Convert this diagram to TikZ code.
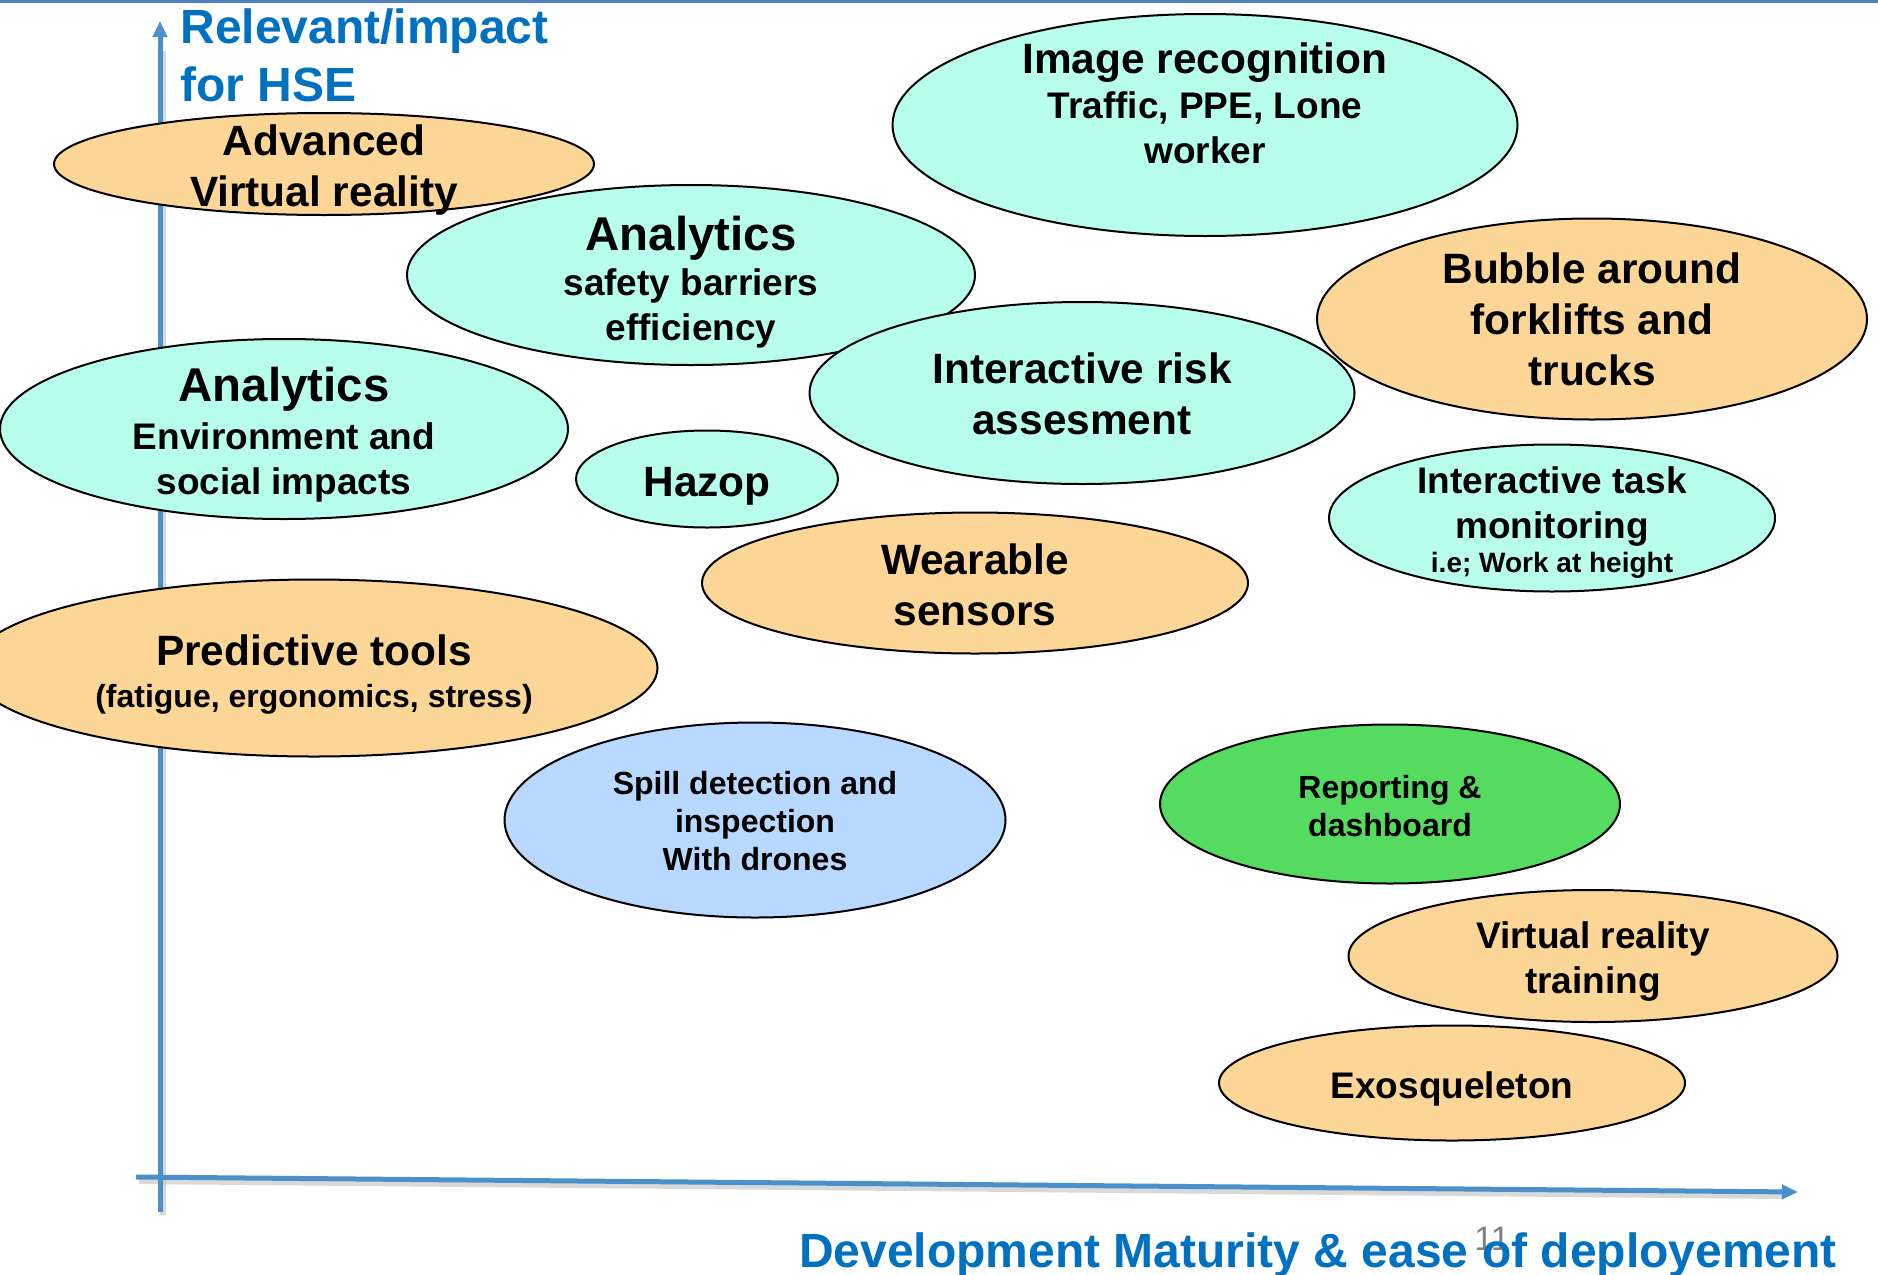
\documentclass[tikz,border=0pt]{standalone}
\usepackage{fontspec}
\setmainfont{Liberation Sans}
\usetikzlibrary{shapes.geometric,arrows.meta}

\definecolor{peach}{RGB}{252,214,150}
\definecolor{mint}{RGB}{183,255,236}
\definecolor{skyblue}{RGB}{184,216,255}
\definecolor{leafgreen}{RGB}{84,219,96}
\definecolor{axisblue}{RGB}{74,145,204}
\definecolor{titleblue}{RGB}{0,112,192}
\definecolor{rimblue}{RGB}{79,129,189}

\newcommand{\fhead}{\fontsize{23.7}{28}\selectfont}
\newcommand{\fbig}{\fontsize{21.2}{25.5}\selectfont}
\newcommand{\fmed}{\fontsize{18.5}{22.5}\selectfont}
\newcommand{\fsmall}{\fontsize{16}{19}\selectfont}
\newcommand{\ftiny}{\fontsize{14}{17}\selectfont}

\tikzset{
  blob/.style={ellipse, draw=black, line width=1pt, inner sep=0pt},
  peachblob/.style={blob, fill=peach},
  mintblob/.style={blob, fill=mint},
  txt/.style={align=center, inner sep=0pt, font=\bfseries},
  axis/.style={axisblue, line width=2.5pt, -{Triangle[length=8pt,width=7pt]}},
  axisshadow/.style={black!25, line width=3pt, opacity=0.6},
}

\begin{document}
\begin{tikzpicture}[x=0.5pt, y=-0.5pt]
\useasboundingbox (0,0) rectangle (1878,1274);
\draw[rimblue, line width=1.5pt] (0,1.5) -- (1878,1.5);

% axes
\coordinate (ybot) at (160,1212);
\coordinate (ytop) at (160,21);
\coordinate (xleft) at (136,1177);
\coordinate (xright) at (1798,1192);
\draw[axisshadow] ([shift={(3,3)}]ybot) -- ([shift={(3,30)}]ytop);
\draw[axisshadow] ([shift={(3,4)}]xleft) -- ([shift={(-14,4)}]xright);
\draw[axis] (ybot) -- (ytop);
\draw[axis] (xleft) -- (xright);

\node[txt, anchor=north west, align=left, titleblue, font=\bfseries\fontsize{24}{29}\selectfont] (ylabel) at (180,8) {Relevant/impact\\for HSE};
\node[anchor=base, gray, font=\fontsize{17}{19}\selectfont] (pagenum) at (1492,1250) {11};
\node[txt, anchor=base, titleblue, font=\bfseries\fontsize{24}{29}\selectfont] (xlabel) at (1318,1267) {Development Maturity \& ease of deployement};

% bubbles
\node[mintblob, minimum width=312.5pt, minimum height=111pt] (img) at (1205,125) {};
\node[txt, font=\bfseries\fmed] (imgtxt) at (1205,103) {{\fbig Image recognition}\\Traffic, PPE, Lone\\worker};

\node[mintblob, minimum width=284pt, minimum height=90pt] (anasafe) at (691,275) {};
\node[txt, font=\bfseries\fmed] (anasafetxt) at (691,282) {{\fhead Analytics}\\safety barriers\\efficiency};

\node[peachblob, minimum width=270pt, minimum height=51pt] (advvr) at (324,164) {};
\node[txt, font=\bfseries\fbig] (advvrtxt) at (324,170) {Advanced\\Virtual reality};

\node[peachblob, minimum width=275pt, minimum height=100.5pt] (bubble) at (1592,319) {};
\node[txt, font=\bfseries\fbig] (bubbletxt) at (1592,319) {Bubble around\\forklifts and\\trucks};

\node[mintblob, minimum width=272.5pt, minimum height=91pt] (risk) at (1082,393) {};
\node[txt, font=\bfseries\fbig] (risktxt) at (1082,394) {Interactive risk\\assesment};

\node[mintblob, minimum width=284pt, minimum height=90pt] (anaenv) at (284,429) {};
\node[txt, font=\bfseries\fmed] (anaenvtxt) at (284,435) {{\fhead Analytics}\\[1.5pt]Environment and\\social impacts};

\node[mintblob, minimum width=131pt, minimum height=48.5pt] (hazop) at (707,479) {};
\node[txt, font=\bfseries\fbig] (hazoptxt) at (707,486) {Hazop};

\node[mintblob, minimum width=223pt, minimum height=73.5pt] (task) at (1552,518) {};
\node[txt, font=\bfseries\fmed] (tasktxt) at (1552,523) {Interactive task\\monitoring\\[-5.5pt]{\ftiny i.e; Work at height}};

\node[peachblob, minimum width=273pt, minimum height=70.5pt] (wear) at (975,583) {};
\node[txt, font=\bfseries\fbig] (weartxt) at (975,585) {Wearable\\sensors};

\node[peachblob, minimum width=343.5pt, minimum height=88.5pt] (predict) at (314,668) {};
\node[txt, font=\bfseries\fsmall] (predicttxt) at (314,675) {{\fbig Predictive tools}\\[2pt](fatigue, ergonomics, stress)};

\node[blob, fill=skyblue, minimum width=250.5pt, minimum height=97.5pt] (spill) at (755,820) {};
\node[txt, font=\bfseries\fsmall] (spilltxt) at (755,821) {Spill detection and\\inspection\\With drones};

\node[blob, fill=leafgreen, minimum width=230pt, minimum height=79.5pt] (report) at (1390,804) {};
\node[txt, font=\bfseries\fsmall] (reporttxt) at (1390,806) {Reporting \&\\dashboard};

\node[peachblob, minimum width=244.5pt, minimum height=66pt] (vrtrain) at (1593,956) {};
\node[txt, font=\bfseries\fmed] (vrtraintxt) at (1593,962) {Virtual reality\\training};

\node[peachblob, minimum width=233pt, minimum height=57.5pt] (exo) at (1452,1083) {};
\node[txt, font=\bfseries\fmed] (exotxt) at (1452,1089) {Exosqueleton};
\end{tikzpicture}
\end{document}
